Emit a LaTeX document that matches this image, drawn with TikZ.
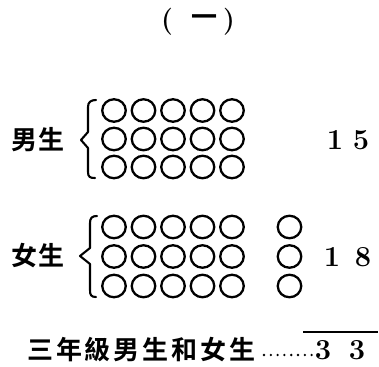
\documentclass[tikz,border=0pt]{standalone}
\usepackage{fontspec}
\usetikzlibrary{shapes.geometric}
\newfontfamily\cjk{Noto Sans CJK TC Bold}
\newfontfamily\cjkwide{Noto Sans CJK TC Bold}[LetterSpace=11]
\begin{document}
\begin{tikzpicture}[x=1pt,y=-1pt,
  ring/.style={draw,ellipse,line width=2.3pt,minimum width=23.5pt,minimum height=22.5pt,inner sep=0pt},
  lab/.style={inner sep=0pt,font=\cjk\fontsize{26}{28}\selectfont},
  num/.style={inner sep=0pt,font=\bfseries\fontsize{29}{30}\selectfont},
  brace/.style={line width=2.1pt,line join=round,line cap=round},
  par/.style={inner sep=0pt,font=\bfseries\fontsize{27}{28}\selectfont}]
\useasboundingbox (0,0) rectangle (379,366);
% title
\node[par] (lp) at (167,22) {(};
\node[lab] (one) at (204,21) {一};
\node[par] (rp) at (229,22) {)};
% boys
\node[lab] (boys) at (38,140) {男生};
\draw[brace] (96,100) .. controls (91,100) and (88,102) .. (88,107) -- (88,132) -- (81,140) -- (88,148) -- (88,172) .. controls (88,177) and (90,178) .. (95,178);
\foreach \r/\y in {1/110.5,2/139,3/167}{
  \foreach \c/\x in {1/114,2/143.5,3/173,4/202.5,5/232}{
    \node[ring] (b-\r-\c) at (\x,\y) {};
  }
}
\node[num] (b1) at (335,140) {1};
\node[num] (b5) at (361,140) {5};
% girls
\node[lab] (girls) at (38,256) {女生};
\draw[brace] (97,216) .. controls (92,216) and (90,218) .. (90,223) -- (90,248) -- (80,256) -- (90,264) -- (90,290) .. controls (90,295) and (91,297) .. (96,297);
\foreach \r/\y in {1/227,2/256.5,3/286}{
  \foreach \c/\x in {1/114,2/143.5,3/173,4/202.5,5/232,6/289.5}{
    \node[ring] (g-\r-\c) at (\x,\y) {};
  }
}
\node[num] (g1) at (332,257) {1};
\node[num] (g8) at (363,257) {8};
% total
\node[inner sep=0pt,anchor=west,font=\cjkwide\fontsize{26}{28}\selectfont] (tot) at (27,350) {三年級男生和女生};
\foreach \i in {0,...,7}{
  \fill (264+\i*6.8,355) circle (1.3);
}
\node[num] (t1) at (323,350) {3};
\node[num] (t2) at (357,350) {3};
\coordinate (ol) at (303,332);
\coordinate (or) at (378,332);
\draw[line width=2.2pt] (ol) -- (or);
\end{tikzpicture}
\end{document}
